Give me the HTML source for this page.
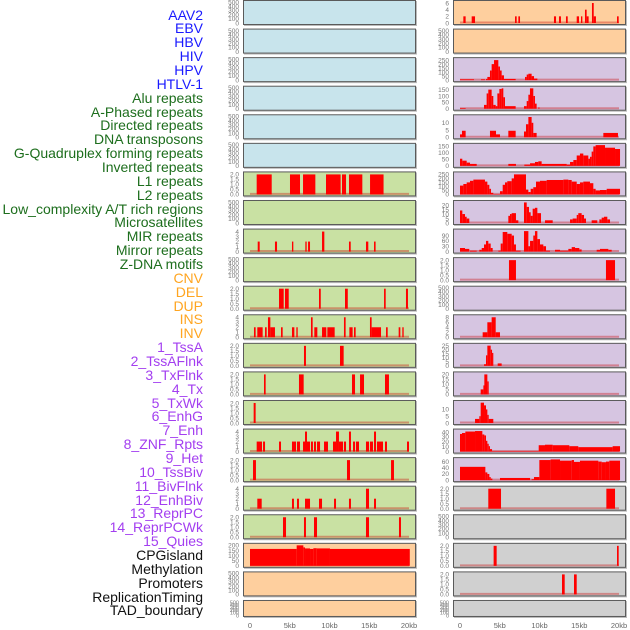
<!DOCTYPE html>
<html><head><meta charset="utf-8"><style>
html,body{margin:0;padding:0;background:#fff;}
#wrap{position:relative;width:630px;height:630px;overflow:hidden;font-family:"Liberation Sans",sans-serif;}
.lbl{position:absolute;right:427px;font-size:14px;line-height:14px;white-space:nowrap;}
</style></head><body>
<div id="wrap">
<div id="labels"></div>
<svg id="chart" width="630" height="630" style="position:absolute;left:0;top:0"></svg>
</div>
<script>
const trackNames=["AAV2","EBV","HBV","HIV","HPV","HTLV-1","Alu repeats","A-Phased repeats","Directed repeats","DNA transposons","G-Quadruplex forming repeats","Inverted repeats","L1 repeats","L2 repeats","Low_complexity A/T rich regions","Microsatellites","MIR repeats","Mirror repeats","Z-DNA motifs","CNV","DEL","DUP","INS","INV","1_TssA","2_TssAFlnk","3_TxFlnk","4_Tx","5_TxWk","6_EnhG","7_Enh","8_ZNF_Rpts","9_Het","10_TssBiv","11_BivFlnk","12_EnhBiv","13_ReprPC","14_ReprPCWk","15_Quies","CPGisland","Methylation","Promoters","ReplicationTiming","TAD_boundary"];
const trackGroups=["virus","virus","virus","virus","virus","virus","repeat","repeat","repeat","repeat","repeat","repeat","repeat","repeat","repeat","repeat","repeat","repeat","repeat","sv","sv","sv","sv","sv","chrom","chrom","chrom","chrom","chrom","chrom","chrom","chrom","chrom","chrom","chrom","chrom","chrom","chrom","chrom","other","other","other","other","other"];
const E=[0,100,200,300,400,500];
const T2=[0,0.5,1,1.5,2];
const T4=[0,1,2,3,4];
const trackTicks=[E,E,E,E,E,E,T2,E,T4,E,T2,T4,T2,T2,T2,T4,T2,T4,T2,[0,50,100,150,200],E,E,
 [0,2,4,6],E,[0,50,100,150,200,250],[0,50,100,150],[0,5,10],[0,50,100,150],[0,50,100,150,200,250],[0,5,10,15,20],[0,30,60,90],T2,E,[0,2,4,6,8],[0,5,10,15,20,25],[0,5,10,15,20],[0,5,10],[0,10,20,30,40],[0,20,40,60],T2,E,T2,T2,E];
const trackMax=[500,500,500,500,500,500,2.1,500,4.2,500,2.1,4.2,2.1,2.1,2.1,4.2,2.1,4.2,2.1,205,500,500,
 6.3,500,262,165,14.5,162,262,23.5,118,2.1,500,8.4,26,21,15.5,43,68,2.1,500,2.1,2.1,500];
const trackSegments=[[],[],[],[],[],[],
[[0.84,2.73,2],[5.03,6.29,2],[6.67,8.22,2],[9.56,11.4,2],[11.57,12.08,2],[12.45,14.13,2],[15.1,16.8,2]],
[],
[[0.97,1.22,2],[3.14,3.4,2],[5.28,5.45,2],[6.96,7.13,2],[7.3,7.55,2],[9.06,9.35,4],[12.45,12.67,2],[14.59,14.88,2],[15.6,15.8,2]],
[],
[[3.65,4.24,2],[4.4,4.87,2],[8.68,8.9,2],[11.95,12.3,2],[16.86,17.07,2],[19.62,19.87,2]],
[[0.5,0.71,2],[0.92,1.59,2],[1.89,2.1,2],[2.26,2.56,4],[2.56,3.14,2],[3.9,4.11,2],[5.28,5.58,2],[5.83,6.0,2],[7.67,7.88,4],[8.09,8.47,2],[9.06,9.6,2],[9.73,10.65,2],[11.82,12.03,4],[12.5,12.91,2],[13.08,13.29,2],[15.09,15.3,4],[15.3,16.48,2],[17.11,17.32,2],[18.7,18.91,2],[19.16,19.33,2]],
[[6.79,7.04,2],[11.32,11.78,2]],
[[1.76,1.97,2],[6.16,6.75,2],[12.83,13.21,2],[13.84,14.34,2],[16.98,17.48,2]],
[[0.46,0.71,2]],
[[0.84,1.51,2],[1.64,1.89,2],[3.65,3.9,2],[5.28,5.79,2],[5.91,6.29,2],[6.67,6.92,2],[6.92,7.17,4],[7.17,7.55,2],[7.67,7.92,2],[8.05,8.3,2],[8.43,8.81,2],[9.31,9.81,2],[10.44,10.82,2],[10.82,11.19,4],[11.19,11.7,2],[11.82,12.08,2],[12.45,12.7,4],[12.96,13.21,2],[13.33,13.71,2],[14.59,14.97,2],[15.09,15.47,2],[15.6,15.85,4],[15.97,16.73,2],[16.98,17.23,2],[19.75,20.0,2]],
[[0.38,0.75,2],[12.2,12.58,2],[17.74,18.11,2]],
[[0.92,1.47,2],[5.28,5.53,2],[5.91,6.16,2],[6.92,7.55,2],[8.68,9.06,2],[10.57,10.82,2],[12.45,12.7,2],[14.59,14.97,4],[15.6,15.85,2]],
[[4.15,4.53,2],[6.79,7.04,2],[8.05,8.43,2],[14.59,14.97,2],[18.74,18.99,2]],
[[0,5.87,165],[5.87,6.71,200],[6.71,6.92,180],[6.92,7.55,170],[7.55,7.97,165],[7.97,8.39,172],[8.39,10.06,170],[10.06,20.1,165]],
[],[],
[[0.42,0.71,2],[1.47,1.89,2],[6.92,7.13,2],[7.34,7.55,2],[11.82,12.08,2],[12.45,12.7,2],[13.33,13.55,2],[14.68,14.97,2],[15.22,15.39,2],[15.72,15.93,4],[15.93,16.18,2],[16.6,16.82,6],[16.82,17.1,2],[19.75,19.96,2]],
[],
[[0,1.76,10],[2.64,3.14,10],[3.27,3.44,15],[3.44,3.77,40],[3.77,3.98,120],[3.98,4.28,200],[4.28,4.82,250],[4.82,5.03,170],[5.03,5.24,120],[5.24,5.53,60],[5.53,7.0,15],[8.18,8.39,40],[8.39,8.6,70],[8.6,9.01,80],[9.01,9.31,50],[9.31,9.73,20]],
[[0,0.71,5],[3.02,3.35,30],[3.35,3.56,120],[3.56,3.98,150],[3.98,4.19,100],[4.19,4.49,30],[4.49,4.7,20],[4.7,4.95,120],[4.95,5.24,155],[5.24,5.45,160],[5.45,5.66,90],[5.66,7.0,20],[8.05,8.39,20],[8.39,8.6,60],[8.6,8.8,110],[8.8,9.22,160],[9.22,9.43,100],[9.43,9.64,40],[9.85,9.98,10]],
[[0,0.25,2],[0.25,0.71,4.5],[3.77,4.53,4.5],[4.53,5.03,2],[6.08,7.0,4.5],[8.05,8.3,4],[8.3,8.6,9],[8.6,9.01,14],[9.01,9.22,10],[9.22,9.64,3],[18.03,19.87,3]],
[[0,0.29,55],[0.29,0.84,40],[0.84,1.26,25],[1.26,2.1,15],[6.08,7.04,15],[8.09,8.81,10],[8.81,9.43,20],[9.43,9.85,30],[9.85,10.27,35],[10.27,13.42,15],[13.42,13.84,10],[13.84,14.26,30],[14.26,14.68,45],[14.68,15.09,80],[15.09,15.51,95],[15.51,16.14,80],[16.14,16.35,55],[16.35,16.56,70],[16.56,16.77,110],[16.77,17.06,150],[17.06,18.24,160],[18.24,19.5,140],[19.5,20.13,130]],
[[0,0.42,110],[0.42,0.84,130],[0.84,1.26,150],[1.26,1.68,170],[1.68,3.14,185],[3.14,3.44,160],[3.44,3.69,120],[3.69,3.9,70],[3.9,4.19,20],[4.19,5.03,5],[5.03,5.37,40],[5.37,5.66,120],[5.66,5.95,150],[5.95,6.5,165],[6.5,6.79,200],[6.79,8.3,250],[8.3,8.6,60],[8.6,8.89,30],[8.89,9.22,70],[9.22,9.56,90],[9.56,10.06,160],[10.06,10.9,170],[10.9,13.0,180],[13.0,13.63,185],[13.63,14.05,180],[14.05,14.68,160],[14.68,15.09,130],[15.09,15.51,150],[15.51,16.35,160],[16.35,16.77,140],[16.77,17.06,70],[17.06,17.61,50],[17.61,18.45,55],[18.45,20.13,70]],
[[0,0.29,14],[0.29,0.63,10],[0.63,0.84,7],[0.84,1.17,5],[6.08,6.29,8],[6.29,6.5,10],[6.5,7.04,11],[7.04,7.34,3],[8.05,8.39,23],[8.39,8.68,18],[8.68,8.89,12],[8.89,9.14,8],[9.14,9.43,16],[9.43,9.73,17],[9.73,10.19,11],[10.69,11.66,3],[13.84,14.17,4],[14.17,14.68,5],[14.68,14.88,9],[14.88,15.3,11],[15.3,15.6,9],[15.6,15.85,5],[16.56,17.27,3],[17.53,17.82,4],[17.82,18.11,6],[18.11,18.53,7],[18.53,18.87,4]],
[[0,0.63,20],[0.63,1.17,15],[1.26,2.1,5],[2.43,2.73,10],[2.73,3.02,20],[3.02,3.27,40],[3.27,3.56,60],[3.56,3.86,45],[3.86,4.11,20],[4.82,5.12,5],[5.12,5.37,45],[5.37,5.95,110],[5.95,6.5,100],[6.5,6.79,90],[6.79,7.04,40],[7.04,7.63,5],[8.05,8.6,115],[8.6,8.81,30],[8.81,9.22,60],[9.22,9.43,90],[9.43,9.73,115],[9.73,10.06,70],[10.06,10.48,40],[10.48,10.82,30],[10.82,11.32,5],[11.95,12.58,10],[12.58,13.63,5],[13.63,14.05,15],[14.05,14.47,25],[14.47,15.01,20],[15.01,15.3,12],[17.19,17.61,10],[17.61,18.66,15],[18.66,19.08,10]],
[[6.16,7.04,2],[18.36,19.5,2]],
[],
[[2.85,3.44,2],[3.44,3.98,6],[3.98,4.49,8],[4.49,5.03,2]],
[[3.02,3.27,2],[3.27,3.44,13],[3.44,3.86,25],[3.86,4.03,20],[4.03,4.19,16],[4.74,5.24,3]],
[[2.6,2.94,5],[2.94,3.06,9],[3.06,3.44,20],[3.44,3.61,13]],
[[1.89,2.43,3],[2.43,2.6,5],[2.6,3.02,15],[3.02,3.27,13],[3.27,3.44,10],[3.44,3.61,6],[3.61,4.19,3]],
[[0,0.25,36],[0.25,0.67,38],[0.67,1.89,41],[1.89,2.81,42],[2.81,3.06,35],[3.06,3.27,33],[3.27,3.44,22],[3.44,3.61,16],[3.61,3.77,11],[3.77,4.03,5],[4.03,9.9,1],[9.9,10.69,13],[10.69,11.66,14],[11.66,13.75,13],[13.75,14.88,11],[14.88,19.2,9],[19.2,20.13,11]],
[[0,3.19,43],[3.19,3.44,25],[3.44,3.69,20],[3.69,3.86,10],[3.86,4.07,5],[5.03,8.81,7],[9.01,9.31,3],[9.31,9.98,10],[9.98,11.4,65],[11.4,12.58,67],[12.58,14.05,63],[14.05,14.34,65],[14.34,15.09,59],[15.09,17.4,63],[17.4,17.82,60],[17.82,18.36,58],[18.36,18.78,60],[18.78,20.13,63]],
[[3.56,5.16,2],[18.41,19.5,2]],
[],
[[4.23,4.61,2],[19.75,19.96,2]],
[[12.83,13.17,2],[14.34,14.68,2]],
[]];
const xTickVals=[0,5,10,15,20];
const xTickLabels=["0","5kb","10kb","15kb","20kb"];

const groupText={virus:"#1a1aff",repeat:"#1d6e1d",sv:"#ffa520",chrom:"#a33ef0",other:"#111"};
const NS="http://www.w3.org/2000/svg";
const svg=document.getElementById('chart');
const lab=document.getElementById('labels');
trackNames.forEach((n,i)=>{
  const d=document.createElement('div');
  d.className='lbl';
  
  
  d.style.top=(15+i*13.86-7.5)+'px';
  d.style.color=groupText[trackGroups[i]];
  d.textContent=n;
  lab.appendChild(d);
});
function mk(tag,attrs,parent){const e=document.createElementNS(NS,tag);for(const k in attrs)e.setAttribute(k,attrs[k]);parent.appendChild(e);return e;}
const colLeft=[243,453], x0=[250,460], pxPerKb=159/20;
function bg(i){
  if(i<22){ if(i<6)return "#c8e4ec"; if(i<19)return "#c9e1a3"; return "#fecf9e";}
  const j=i-22; if(j<2)return "#fecf9e"; if(j<17)return "#d6c5e1"; return "#d0d0d0";
}
for(let i=0;i<trackNames.length;i++){
  const col=i<22?0:1, row=i%22;
  const top=row*28.57, h=row===21?17:25;
  const L=colLeft[col], W=173;
  const g=mk('g',{},svg);
  
  
  mk('rect',{x:L+1,y:top+1,width:W,height:h,fill:'#bbb'},g);
  mk('rect',{x:L+0.5,y:top+0.5,width:W-1,height:h-1,fill:bg(i),stroke:'#5a5a5a','stroke-width':1},g);
  const yb=top+h-2, yt=top+2, ymax=trackMax[i];
  const ys=v=>yb-(v/ymax)*(yb-yt);
  const xs=k=>x0[col]+k*pxPerKb;
  const ticks=trackTicks[i];
  const dec=ticks.some(t=>t%1!==0);
  ticks.forEach(t=>{
    const tx=mk('text',{x:L-4,y:ys(t)+2.3,'font-size':(h<20?5.5:6.5),fill:'#777','text-anchor':'end','font-family':'Liberation Sans, sans-serif'},g);
    
    
    tx.textContent=dec?t.toFixed(1):t;
  });
  const segs=trackSegments[i];
  if(segs.length){
    const bl=mk('line',{x1:xs(0),x2:xs(20),y1:yb-0.5,y2:yb-0.5,stroke:'rgba(200,0,0,0.35)','stroke-width':2},g);
    
    
    segs.forEach(s=>{
      const r=mk('rect',{x:xs(s[0]),y:ys(s[2]),width:Math.max(1.2,xs(s[1])-xs(s[0])),height:yb-ys(s[2]),fill:'#ff0000'},g);
      
      
    });
  }
}
for(let c=0;c<2;c++){
  xTickVals.forEach((v,k)=>{
    const t=mk('text',{x:x0[c]+v*pxPerKb,y:628,'font-size':7.5,fill:'#666','text-anchor':'middle','font-family':'Liberation Sans, sans-serif'},svg);
    
    
    t.textContent=xTickLabels[k];
  });
}
</script>
</body></html>
